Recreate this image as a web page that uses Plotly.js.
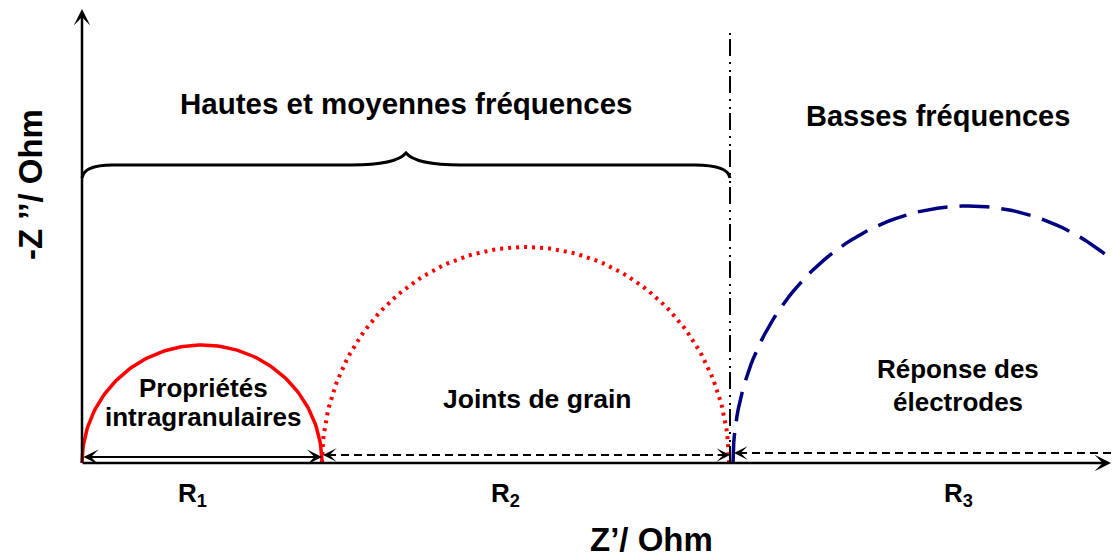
<!DOCTYPE html>
<html>
<head>
<meta charset="utf-8">
<script src="https://cdn.plot.ly/plotly-3.0.1.min.js"></script>
<style>html,body{margin:0;padding:0;background:#fff}#chart{width:1112px;height:558px}</style>
</head>
<body>
<div id="chart"></div>
<script>
// ---- data (schematic Nyquist plot, arbitrary Ohm units) ----
const arcNames   = ['Propriétés intragranulaires', 'Joints de grain', 'Réponse des électrodes'];
const arcStart   = [0, 240, 651];     // Z' where each arc begins
const arcEnd     = [240, 647, 1121];  // Z' where each arc ends
const arcHeight  = [118, 216, 257];   // max -Z''
const arcColors  = ['#ff0000', '#ff0000', '#000080'];
const arcDash    = ['solid', '3px,5px', '30px,12px'];
const rLabels    = ['R<sub>1</sub>', 'R<sub>2</sub>', 'R<sub>3</sub>'];
const rStart     = [0, 240, 651];
const rEnd       = [240, 648, 1030];
const hfSpan     = [0, 648];           // high/medium frequency domain
const boundaryZ  = 648;                // frequency boundary
const headerTexts = ['Hautes et moyennes fréquences', 'Basses fréquences'];

const FONT = '"Liberation Sans", Arial, sans-serif';
const N = 120;
const traces = arcStart.map((s, i) => {
  const c = (s + arcEnd[i]) / 2, r = (arcEnd[i] - s) / 2;
  const xs = [], ys = [];
  for (let k = 0; k <= N; k++) {
    const t = Math.PI - Math.PI * k / N;
    xs.push(c + r * Math.cos(t));
    ys.push(arcHeight[i] * Math.sin(t));
  }
  return {x: xs, y: ys, type: 'scatter', mode: 'lines', name: arcNames[i],
          line: {color: arcColors[i], width: i === 1 ? 4 : 3.5, dash: arcDash[i]},
          hoverinfo: 'skip', showlegend: false};
});

const shapes = [];
// frequency boundary
shapes.push({type: 'line', xref: 'x', yref: 'y', x0: boundaryZ, x1: boundaryZ, y0: 0, y1: 431,
  line: {color: '#000', width: 2, dash: '17px,4px,2px,6px,2px,6px'}});
// dashed R2 and R3 lines
const rY = [6, 8, 10];
[1, 2].forEach(i => shapes.push({type: 'line', xref: 'x', yref: 'y',
  x0: rStart[i] + 6, x1: rEnd[i] - (i === 1 ? 6 : 0), y0: rY[i], y1: rY[i],
  line: {color: '#000', width: 1.8, dash: '8px,5px'}}));
// curly brace
(function () {
  const x0 = hfSpan[0], x1 = hfSpan[1], m = (x0 + x1) / 2;
  const yb = 298, yp = 310, ye = 285;
  const p = `M${x0},${ye} Q${x0 + 2},${yb} ${x0 + 30},${yb} L${m - 55},${yb} ` +
            `Q${m - 10},${yb} ${m},${yp} Q${m + 10},${yb} ${m + 55},${yb} ` +
            `L${x1 - 35},${yb} Q${x1 - 2},${yb} ${x1},${ye}`;
  shapes.push({type: 'path', xref: 'x', yref: 'y', path: p, line: {color: '#000', width: 3}});
})();

const ann = [];
const txt = (x, y, t, size, extra) => Object.assign({x, y, xref: 'x', yref: 'y', text: '<b>' + t + '</b>',
  showarrow: false, font: {family: FONT, size, color: '#000'}}, extra || {});
const arrow = (x, y, ax, ay, o) => Object.assign({x, y, ax, ay, xref: 'x', yref: 'y', axref: 'x', ayref: 'y',
  text: '', showarrow: true, arrowhead: 3, arrowwidth: 2, arrowsize: 1.25, arrowcolor: '#000'}, o || {});

// axes with arrows
ann.push(arrow(0, 454, 0, -1, {arrowwidth: 2.5, arrowsize: 1.1}));
ann.push(arrow(1029, 0, -1, 0, {arrowwidth: 2.5, arrowsize: 1.1}));
// R1 double arrow
ann.push(arrow(rEnd[0], rY[0], rStart[0], rY[0], {arrowside: 'end+start'}));
// arrowheads for dashed R2, R3
ann.push(arrow(rStart[1] + 1, rY[1], rStart[1] + 15, rY[1], {arrowwidth: 1.5, arrowsize: 1.5}));
ann.push(arrow(rEnd[1], rY[1], rEnd[1] - 14, rY[1], {arrowwidth: 1.5, arrowsize: 1.5}));
ann.push(arrow(rStart[2] + 1, rY[2], rStart[2] + 15, rY[2], {arrowwidth: 1.5, arrowsize: 1.5}));

// headers
ann.push(txt((hfSpan[0] + hfSpan[1]) / 2, 360, headerTexts[0], 29.5));
ann.push(txt(856, 347, headerTexts[1], 29));
// arc labels
ann.push(txt(121, 75, 'Propriétés', 26));
ann.push(txt(121, 46, 'intragranulaires', 26));
ann.push(txt(455, 64, 'Joints de grain', 26.5));
ann.push(txt(876, 94, 'Réponse des', 26));
ann.push(txt(876, 61, 'électrodes', 26));
// R labels
const rLabelX = [110, 423, 876];
rLabels.forEach((t, i) => ann.push(txt(rLabelX[i], -31, t, 26)));
// axis titles
ann.push(txt(569, -76, 'Z’/ Ohm', 33));
ann.push(txt(-52, 278, '-Z ’’/ Ohm', 33, {textangle: -90}));

const layout = {
  width: 1112, height: 558, margin: {l: 0, r: 0, t: 0, b: 0},
  paper_bgcolor: '#fff', plot_bgcolor: '#fff', showlegend: false,
  xaxis: {range: [-82, 1030], visible: false, fixedrange: true},
  yaxis: {range: [-95, 463], visible: false, fixedrange: true},
  shapes, annotations: ann
};
Plotly.newPlot('chart', traces, layout, {staticPlot: true});
</script>
</body>
</html>
